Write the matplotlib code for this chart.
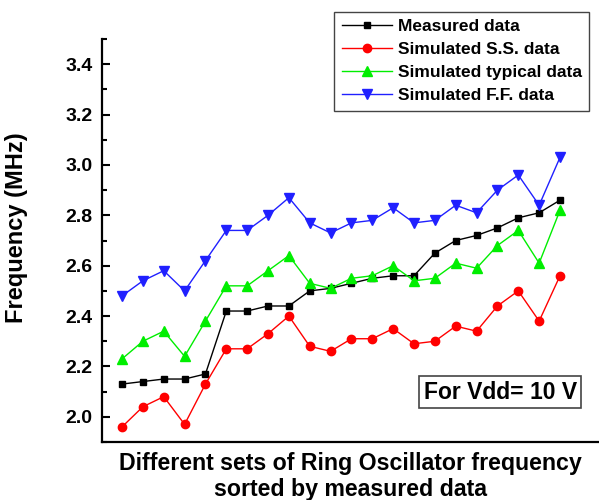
import matplotlib
matplotlib.use("Agg")
import matplotlib.pyplot as plt
from matplotlib.ticker import MultipleLocator

plt.rcParams['font.family'] = ['Liberation Sans', 'DejaVu Sans']

# ring oscillator sets, sorted by the measured frequency
set_index = list(range(1, 23))
measured = [2.13, 2.14, 2.15, 2.15, 2.17, 2.42, 2.42, 2.44, 2.44, 2.50, 2.51,
            2.53, 2.55, 2.56, 2.56, 2.65, 2.70, 2.72, 2.75, 2.79, 2.81, 2.86]
sim_ss = [1.96, 2.04, 2.08, 1.97, 2.13, 2.27, 2.27, 2.33, 2.40, 2.28, 2.26,
          2.31, 2.31, 2.35, 2.29, 2.30, 2.36, 2.34, 2.44, 2.50, 2.38, 2.56]
sim_typical = [2.23, 2.30, 2.34, 2.24, 2.38, 2.52, 2.52, 2.58, 2.64, 2.53, 2.51,
               2.55, 2.56, 2.60, 2.54, 2.55, 2.61, 2.59, 2.68, 2.74, 2.61, 2.82]
sim_ff = [2.48, 2.54, 2.58, 2.50, 2.62, 2.74, 2.74, 2.80, 2.87, 2.77, 2.73,
          2.77, 2.78, 2.83, 2.77, 2.78, 2.84, 2.81, 2.90, 2.96, 2.84, 3.03]

series = [
    (measured, 'Measured data', 'black', 's', 5),
    (sim_ss, 'Simulated S.S. data', '#ff0000', 'o', 6),
    (sim_typical, 'Simulated typical data', '#00ee00', '^', 6.5),
    (sim_ff, 'Simulated F.F. data', '#2020ff', 'v', 6.5),
]

fig = plt.figure(figsize=(5.99, 5.0), dpi=100)
ax = fig.add_axes([0.1703, 0.116, 0.8297, 0.806])

for values, label, color, marker, ms in series:
    ax.plot(set_index, values, color=color, marker=marker, markersize=ms,
            linewidth=1.0, label=label)

ax.set_xlim(0.04, 23.87)
ax.set_ylim(1.9, 3.5)
ax.yaxis.set_major_locator(MultipleLocator(0.2))
ax.yaxis.set_minor_locator(MultipleLocator(0.1))
ax.yaxis.set_major_formatter(matplotlib.ticker.FormatStrFormatter('%.1f'))
ax.tick_params(axis='y', which='major', direction='in', length=6, width=1.5,
               pad=7, labelsize=14)
ax.tick_params(axis='y', which='minor', direction='in', length=3.5, width=1.5)
for lbl in ax.get_yticklabels():
    lbl.set_fontweight('bold')
ax.set_xticks([])

ax.spines['top'].set_visible(False)
ax.spines['right'].set_visible(False)
ax.spines['left'].set_linewidth(1.6)
ax.spines['bottom'].set_linewidth(1.6)

ax.set_ylabel('Frequency (MHz)', fontsize=17, fontweight='bold')
ax.yaxis.set_label_coords(-0.149, 0.531)
ax.set_xlabel('Different sets of Ring Oscillator frequency\nsorted by measured data',
              fontsize=16.7, fontweight='bold', labelpad=7, linespacing=1.2)

leg = fig.legend(loc='upper right', bbox_to_anchor=(0.984, 0.976), numpoints=1,
                 fancybox=False, edgecolor='#444444', framealpha=1,
                 prop={'size': 12.5, 'weight': 'bold'}, handlelength=2.9,
                 handletextpad=0.35, labelspacing=0.45, borderpad=0.42,
                 borderaxespad=0)
leg.get_frame().set_linewidth(1.0)

ax.text(0.801, 0.124, 'For Vdd= 10 V', transform=ax.transAxes, ha='center',
        va='center', fontsize=16.5, fontweight='bold',
        bbox=dict(boxstyle='square,pad=0.2', facecolor='white',
                  edgecolor='#444444', linewidth=1.2))

fig.savefig('out.png', dpi=100)
